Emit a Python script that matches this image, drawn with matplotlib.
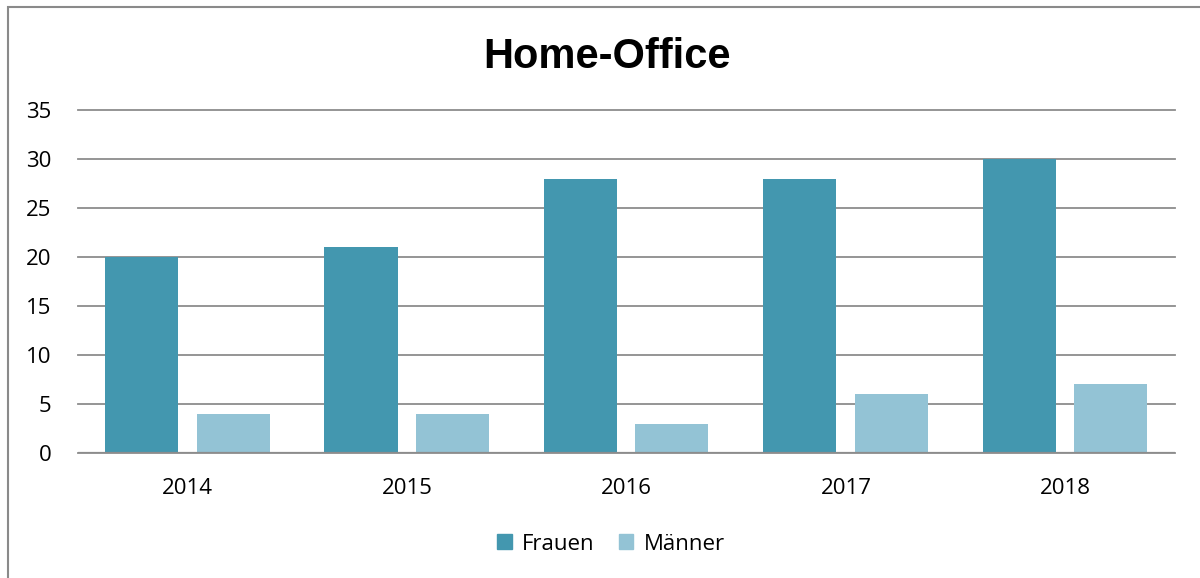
import matplotlib
matplotlib.use("Agg")
import matplotlib.pyplot as plt
import numpy as np
from matplotlib.patches import Rectangle, Patch

years = ["2014", "2015", "2016", "2017", "2018"]
frauen = [20, 21, 28, 28, 30]
maenner = [4, 4, 3, 6, 7]
yticks = [0, 5, 10, 15, 20, 25, 30, 35]

c_frauen = "#4397AF"
c_maenner = "#93C3D5"
grid_c = "#8C8C8C"

fig = plt.figure(figsize=(12, 5.78), dpi=100)
fig.patch.set_facecolor("white")
fig.patches.append(Rectangle((8/1200, -0.5), 2.0, (578-7)/578 + 0.5, transform=fig.transFigure,
                             fill=False, edgecolor="#8A8A8A", linewidth=1.5))

ax = fig.add_axes([78/1200, (578-453)/578, (1175-78)/1200, (453-110)/578])
x = np.arange(len(years))
w = 0.333
ax.bar(x - 0.21, frauen, width=w, color=c_frauen, zorder=3, label="Frauen")
ax.bar(x + 0.207, maenner, width=w, color=c_maenner, zorder=3, label="Männer")

ax.set_xlim(-0.5, len(years) - 0.5)
ax.set_ylim(0, 35)
ax.set_yticks(yticks)
ax.set_yticklabels([str(t) for t in yticks])
ax.set_xticks(x)
ax.set_xticklabels(years)
for s in ax.spines.values():
    s.set_visible(False)
ax.yaxis.grid(True, color=grid_c, linewidth=1.3, zorder=0)
for gl in ax.get_ygridlines():
    gl.set_clip_on(False)
ax.axhline(0, color=grid_c, linewidth=1.6, zorder=4)
ax.tick_params(axis="both", length=0, labelsize=16, colors="black")
ax.tick_params(axis="y", pad=19)
ax.tick_params(axis="x", pad=18)
for lab in ax.get_xticklabels() + ax.get_yticklabels():
    lab.set_fontfamily("Open Sans")

fig.text(607/1200, 1 - 57/578, "Home-Office", ha="center", va="center",
         fontsize=30, fontweight="bold", family="Liberation Sans")

handles = [Patch(color=c_frauen, label="Frauen"), Patch(color=c_maenner, label="Männer")]
fig.legend(handles=handles, loc="center", bbox_to_anchor=(611/1200, 1 - 544/578), ncol=2,
           frameon=False, prop={"family": "Open Sans", "size": 16},
           handlelength=0.65, handleheight=0.65, handletextpad=0.45, columnspacing=1.1)

fig.savefig("out.png", dpi=100, facecolor="white")
